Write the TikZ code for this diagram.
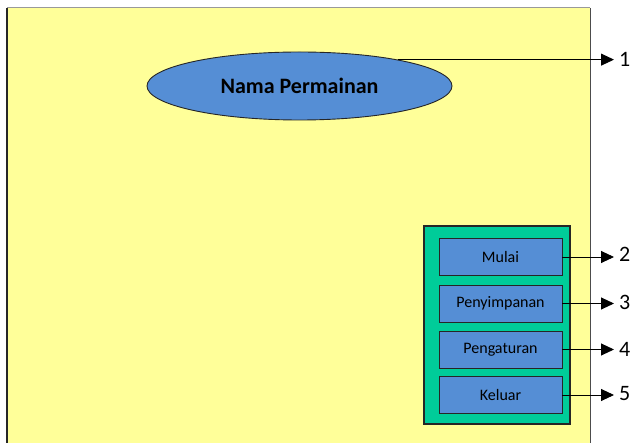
\documentclass[tikz,border=0pt]{standalone}
\usepackage{fontspec}
\setmainfont{Carlito}
\usetikzlibrary{shapes.geometric,arrows.meta}
\definecolor{paper}{HTML}{FFFF99}
\definecolor{panel}{HTML}{00CC99}
\definecolor{btn}{HTML}{558ED5}
\tikzset{
  menubtn/.style={draw=black!85, fill=btn, minimum width=123pt, minimum height=37pt,
    inner sep=0pt, font=\fontsize{16}{18}\selectfont, line width=0.9pt},
  num/.style={font=\fontsize{22}{24}\selectfont, inner sep=0pt, anchor=west},
  link/.style={-{Triangle[length=13pt,width=12pt]}, line width=0.9pt, shorten >=5pt}
}
\begin{document}
\begin{tikzpicture}[x=1pt,y=-1pt]
\path[use as bounding box] (0,0) rectangle (632,443);
% screen area
\fill[paper] (7,8) rectangle (590,443);
\draw[black!40, line width=1pt] (7,8) -- (590,8);
\draw[black!85, line width=2pt] (7,8) -- (7,443);
\draw[black!70, line width=1pt] (590,8) -- (590,443);
% title
\node[ellipse, draw=black!85, fill=btn, minimum width=305pt, minimum height=68pt,
  inner sep=0pt, font=\bfseries\fontsize{22}{24}\selectfont, line width=0.9pt]
  (title) at (299.5,86) {Nama Permainan};
% menu panel
\node[draw=black!85, fill=panel, line width=1.2pt, minimum width=146pt, minimum height=198pt,
  inner sep=0pt] (panel) at (497,325) {};
\node[menubtn] (b1) at (500.5,257) {Mulai};
\node[menubtn] (b2) at (500.5,303.5) {Penyimpanan};
\node[menubtn] (b3) at (500.5,349.5) {Pengaturan};
\node[menubtn] (b4) at (500.5,395) {Keluar};
% numbers
\node[num] (n1) at (619,59) {1};
\node[num] (n2) at (619,254) {2};
\node[num] (n3) at (619,302) {3};
\node[num] (n4) at (619,349) {4};
\node[num] (n5) at (619,394) {5};
\coordinate (t1) at (title.15);
\draw[link] (t1) -- (t1 -| n1.west);
\draw[link] (b1.east) -- (b1.east -| n2.west);
\draw[link] (b2.east) -- (b2.east -| n3.west);
\draw[link] (b3.east) -- (b3.east -| n4.west);
\draw[link] (b4.east) -- (b4.east -| n5.west);
\end{tikzpicture}
\end{document}
